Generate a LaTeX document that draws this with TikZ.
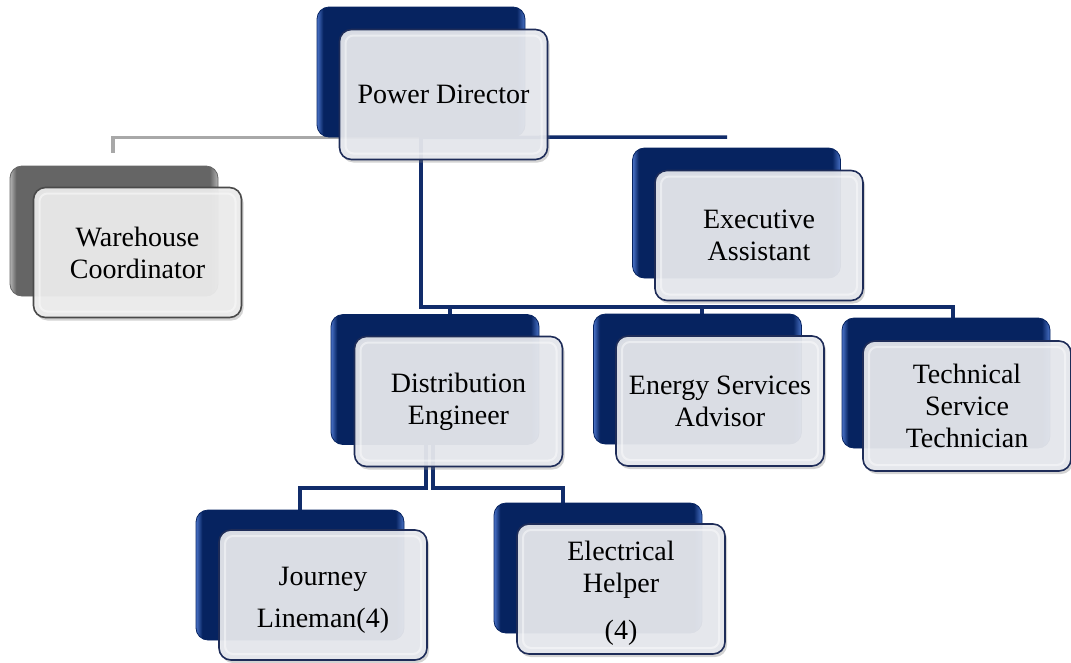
\documentclass[tikz,border=0pt]{standalone}
\usepackage{fontspec}
\setmainfont{Liberation Serif}
\usetikzlibrary{shadows}
\pgfdeclarelayer{bg}
\pgfsetlayers{bg,main}
\definecolor{navyline}{HTML}{112C6A}
\definecolor{navyhi}{HTML}{4A73C8}
\definecolor{navydk}{HTML}{062360}
\definecolor{frontfill}{HTML}{E7E9EE}
\definecolor{frontdraw}{HTML}{1E2C58}
\definecolor{grayline}{HTML}{A8A8A8}
\definecolor{grayhi}{HTML}{B4B4B4}
\definecolor{graydk}{HTML}{656565}
\definecolor{wfill}{HTML}{EDEDED}
\definecolor{wdraw}{HTML}{4A4A4A}
\pgfdeclarehorizontalshading{navyshade}{100bp}{color(0bp)=(navyhi); color(25bp)=(navyhi); color(26.5bp)=(navydk); color(73bp)=(navydk); color(75bp)=(navyhi); color(100bp)=(navyhi)}
\pgfdeclarehorizontalshading{grayshade}{100bp}{color(0bp)=(grayhi); color(25bp)=(grayhi); color(26.5bp)=(graydk); color(73bp)=(graydk); color(75bp)=(grayhi); color(100bp)=(grayhi)}
\tikzset{
  boxsize/.style={rounded corners=12pt, minimum width=208pt, minimum height=130pt, inner sep=0pt},
  backbox/.style={boxsize, shading=navyshade, draw=navydk, line width=0.8pt},
  backgray/.style={boxsize, shading=grayshade, draw=graydk, line width=0.8pt},
  frontbox/.style={boxsize, fill=frontfill, fill opacity=0.93, text opacity=1,
    draw=frontdraw, line width=1.6pt, align=center, text=black,
    font=\fontsize{28}{32}\selectfont,
    drop shadow={opacity=0.35, shadow xshift=2pt, shadow yshift=-3pt},
    path picture={\draw[white, opacity=0.45, line width=2pt, rounded corners=8pt]
      ([shift={(6pt,-6pt)}]path picture bounding box.north west) rectangle
      ([shift={(-6pt,6pt)}]path picture bounding box.south east);}},
  frontgray/.style={frontbox, fill=wfill, draw=wdraw},
  conn/.style={draw=navyline, line width=3.5pt},
  grayconn/.style={draw=grayline, line width=3.5pt}
}
\begin{document}
\begin{tikzpicture}[x=1pt, y=-1pt]
\useasboundingbox (0,0) rectangle (1071,662);
% back boxes
\node[backbox]  (pdb) at (421,72) {};
\node[backgray] (whb) at (114,231) {};
\node[backbox]  (eab) at (736.5,213) {};
\node[backbox]  (deb) at (435,379.5) {};
\node[backbox]  (esb) at (697.5,379) {};
\node[backbox]  (tsb) at (946,383) {};
\node[backbox]  (jlb) at (300,575) {};
\node[backbox]  (ehb) at (598,568) {};
% front boxes
\node[frontbox]  (pd) at (443.5,94.5) {Power Director};
\node[frontgray] (wh) at (137.5,252.5) {Warehouse\\Coordinator};
\node[frontbox]  (ea) at (759,235.5) {Executive\\Assistant};
\node[frontbox]  (de) at (458.5,401.5) {Distribution\\Engineer};
\node[frontbox]  (es) at (720,401) {Energy Services\\Advisor};
\node[frontbox]  (ts) at (967,406) {Technical\\Service\\Technician};
\node[frontbox]  (jl) at (323,595) {\rule{0pt}{28pt}Journey\\[10pt]Lineman(4)};
\node[frontbox]  (eh) at (621,589) {\rule{0pt}{28pt}Electrical\\Helper\\[15pt](4)};
% connector end points
\coordinate (whtop) at (113,153);
\coordinate (eaend) at (727,137);
\coordinate (busR) at (953,307);
\coordinate (dedrop) at (450,307);
\coordinate (esdrop) at (702,307);
\coordinate (dejL) at (426,488);
\coordinate (dejR) at (433,488);
\coordinate (ehdrop) at (563,488);
\begin{pgfonlayer}{bg}
\draw[grayconn] (pdb.south) -| (whtop);
\draw[conn] (pdb.south) -- (eaend);
\draw[conn] (pdb.center) |- (busR) -- (busR |- tsb.north);
\draw[conn] (dedrop) -- (dedrop |- deb.north);
\draw[conn] (esdrop) -- (esdrop |- esb.north);
\draw[conn] (dejL |- de.center) -- (dejL) -| (jlb.north);
\draw[conn] (dejR |- de.center) -- (dejR) -- (ehdrop) -- (ehdrop |- ehb.north);
\end{pgfonlayer}
\end{tikzpicture}
\end{document}
